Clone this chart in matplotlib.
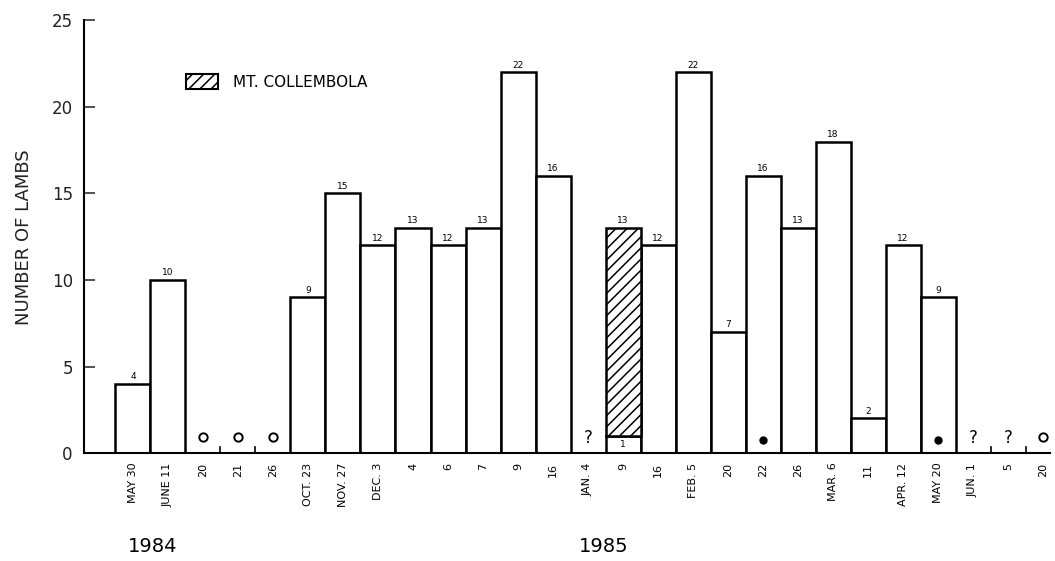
import numpy as np
import matplotlib
matplotlib.use('Agg')
import matplotlib.pyplot as plt
from matplotlib.patches import Patch

# sampling dates (1984 - 1985) and lambs counted per survey
dates = ['MAY 30', 'JUNE 11', '20', '21', '26', 'OCT. 23', 'NOV. 27', 'DEC. 3',
         '4', '6', '7', '9', '16', 'JAN. 4', '9', '16', 'FEB. 5', '20', '22',
         '26', 'MAR. 6', '11', 'APR. 12', 'MAY 20', 'JUN. 1', '5', '20']
lambs = [4, 10, 0, 0, 0, 9, 15, 12, 13, 12, 13, 22, 16, np.nan, 13, 12, 22,
         7, 16, 13, 18, 2, 12, 9, np.nan, np.nan, 0]
collembola = [0, 0, 0, 0, 0, 0, 0, 0, 0, 0, 0, 0, 0, 0, 12, 0, 0,
              0, 0, 0, 0, 0, 0, 0, 0, 0, 0]
# symbols at the foot of a column: o = none seen, ? = not surveyed, * = dot
symbols = ['', '', 'o', 'o', 'o', '', '', '', '', '', '', '', '', '?', '', '', '',
           '', '*', '', '', '', '', '*', '?', '?', 'o']
years = ['1984', '1985']
year_at = [0, 13]

lambs = np.array(lambs, dtype=float)
collembola = np.array(collembola, dtype=float)
x = np.arange(len(dates))

plt.rcParams['hatch.linewidth'] = 1.1
fig = plt.figure(figsize=(10.55, 5.61), dpi=100)
ax = fig.add_axes([0.0796, 0.1925, 0.9157, 0.771])

lw = 1.8
has_bar = np.nan_to_num(lambs) > 0
other = lambs - collembola
ax.bar(x[has_bar], other[has_bar], width=1.0, color='white', edgecolor='black', lw=lw, zorder=2)
hc = collembola > 0
ax.bar(x[hc], collembola[hc], bottom=other[hc], width=1.0, color='white',
       edgecolor='black', hatch='///', lw=lw, zorder=2)

# value labels
for i in x[has_bar]:
    ax.annotate('%d' % lambs[i], (i, lambs[i]), xytext=(0, 2), textcoords='offset points',
                ha='center', va='bottom', fontsize=6.5)
    if collembola[i] > 0:
        ax.text(i, other[i] / 2, '%d' % other[i], ha='center', va='center', fontsize=6.5, zorder=3)

# symbols on the baseline
for i, s in enumerate(symbols):
    if s == 'o':
        ax.plot(i, 0.9, 'o', ms=6, mfc='white', mec='black', mew=1.4, zorder=3)
    elif s == '*':
        ax.plot(i, 0.75, 'o', ms=5, color='black', zorder=3)
    elif s == '?':
        ax.text(i, 0.35, '?', ha='center', va='bottom', fontsize=12, zorder=3)

# small ticks between empty columns
empty = ~has_bar
for i in range(len(x) - 1):
    if empty[i] and empty[i + 1] and symbols[i] and symbols[i + 1]:
        ax.plot([i + 0.5, i + 0.5], [0, 0.35], color='black', lw=1.2)

ax.set_xlim(-1.4, 26.2)
ax.set_ylim(0, 25)
ax.set_xticks(x)
ax.set_xticklabels(dates, rotation=90, fontsize=8)
ax.set_yticks(np.arange(0, 26, 5))
ax.tick_params(axis='x', length=0, pad=7)
ax.tick_params(axis='y', direction='in', length=8, width=1.2, pad=8, labelsize=12, colors='#333333')
ax.tick_params(axis='y', labelcolor='#222222')
for sp in ['top', 'right']:
    ax.spines[sp].set_visible(False)
ax.spines['left'].set_linewidth(1.5)
ax.spines['bottom'].set_linewidth(1.5)

ax.set_ylabel('NUMBER OF LAMBS', fontsize=13, color='#222222')
ax.yaxis.set_label_coords(-0.053, 0.5)

for yr, pos in zip(years, year_at):
    ax.text(pos + 0.55 if yr == '1984' else pos + 0.45, -0.215, yr, ha='center', va='center',
            fontsize=14, transform=ax.get_xaxis_transform())

ax.legend(handles=[Patch(facecolor='white', edgecolor='black', hatch='///', lw=1.5,
                         label='MT. COLLEMBOLA')],
          loc='center left', bbox_to_anchor=(0.1056, 0.858), frameon=False,
          fontsize=11, handlelength=2.1, handleheight=1.1, handletextpad=1.0,
          borderpad=0, borderaxespad=0)

plt.savefig('out.png', dpi=100)
